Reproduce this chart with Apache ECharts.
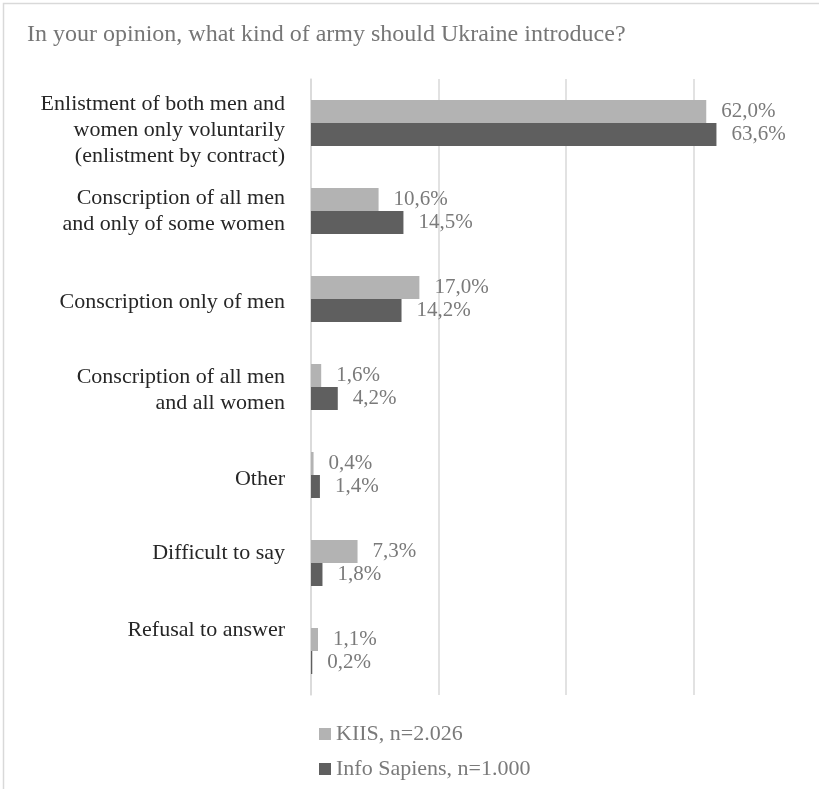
<!DOCTYPE html>
<html>
<head>
<meta charset="utf-8">
<script src="https://cdn.jsdelivr.net/npm/echarts@6/dist/echarts.min.js"></script>
<style>
  html, body { margin: 0; padding: 0; background: #ffffff; }
  #chart { width: 819px; height: 789px; }
</style>
</head>
<body>
<div id="chart"></div>
<script>
const titleText = 'In your opinion, what kind of army should Ukraine introduce?';
const categories = [
  'Enlistment of both men and\nwomen only voluntarily\n(enlistment by contract)',
  'Conscription of all men\nand only of some women',
  'Conscription only of men',
  'Conscription of all men\nand all women',
  'Other',
  'Difficult to say',
  'Refusal to answer'
];
const seriesNames = ['KIIS, n=2.026', 'Info Sapiens, n=1.000'];
const kiisValues = [62.0, 10.6, 17.0, 1.6, 0.4, 7.3, 1.1];
const infoSapiensValues = [63.6, 14.5, 14.2, 4.2, 1.4, 1.8, 0.2];
const xTicks = [0, 20, 40, 60, 80];

// styling only: vertical nudge of category labels (px; positive = up, negative = down)
const labelNudge = [-7, 0, -3, -3, -4, 10, 21];

const serif = '"Liberation Serif", "DejaVu Serif", serif';
const fmt = p => p.value.toFixed(1).replace('.', ',') + '%';

const rich = {};
labelNudge.forEach(n => {
  if (n !== 0) rich['sp' + Math.abs(n)] = { fontSize: 1, lineHeight: Math.abs(n) * 2 };
});
const labelFormatter = (v, i) => {
  const n = labelNudge[i];
  if (n > 0) return v + '\n{sp' + n + '| }';
  if (n < 0) return '{sp' + (-n) + '| }\n' + v;
  return v;
};

const chart = echarts.init(document.getElementById('chart'), null, { renderer: 'canvas' });

const labelStyle = {
  show: true,
  position: 'right',
  distance: 15,
  formatter: fmt,
  color: '#7a7a7a',
  fontFamily: serif,
  fontSize: 21
};

chart.setOption({
  animation: false,
  backgroundColor: '#ffffff',
  graphic: [{
    type: 'rect',
    shape: { x: 3.5, y: 3.5, width: 900, height: 900 },
    style: { fill: 'none', stroke: '#d9d9d9', lineWidth: 1.5 },
    silent: true,
    z: -10
  }],
  title: {
    text: titleText,
    left: 22,
    top: 18,
    textStyle: { fontFamily: serif, fontSize: 24, fontWeight: 'normal', color: '#767676' }
  },
  legend: {
    orient: 'vertical',
    left: 314,
    top: 718,
    itemWidth: 12,
    itemHeight: 12,
    itemGap: 13,
    icon: 'rect',
    textStyle: { fontFamily: serif, fontSize: 22, color: '#7a7a7a' },
    data: seriesNames
  },
  grid: { left: 311, top: 79, width: 510, bottom: 94, containLabel: false, outerBoundsMode: 'none' },
  xAxis: {
    type: 'value',
    min: xTicks[0],
    max: xTicks[xTicks.length - 1],
    interval: xTicks[1] - xTicks[0],
    axisLabel: { show: false },
    axisLine: { show: false },
    axisTick: { show: false },
    splitLine: { show: true, lineStyle: { color: '#d9d9d9', width: 1.5 } }
  },
  yAxis: {
    type: 'category',
    inverse: true,
    data: categories,
    axisTick: { show: false },
    axisLine: { show: true, lineStyle: { color: '#d9d9d9', width: 1.5 } },
    axisLabel: {
      margin: 26,
      fontFamily: serif,
      fontSize: 22,
      lineHeight: 26,
      color: '#262626',
      align: 'right',
      formatter: labelFormatter,
      rich: rich
    }
  },
  series: [
    {
      name: seriesNames[0],
      type: 'bar',
      data: kiisValues,
      barWidth: 23,
      barGap: '0%',
      itemStyle: { color: '#b3b3b3' },
      label: labelStyle
    },
    {
      name: seriesNames[1],
      type: 'bar',
      data: infoSapiensValues,
      barWidth: 23,
      barGap: '0%',
      itemStyle: { color: '#5f5f5f' },
      label: labelStyle
    }
  ]
});
</script>
</body>
</html>
